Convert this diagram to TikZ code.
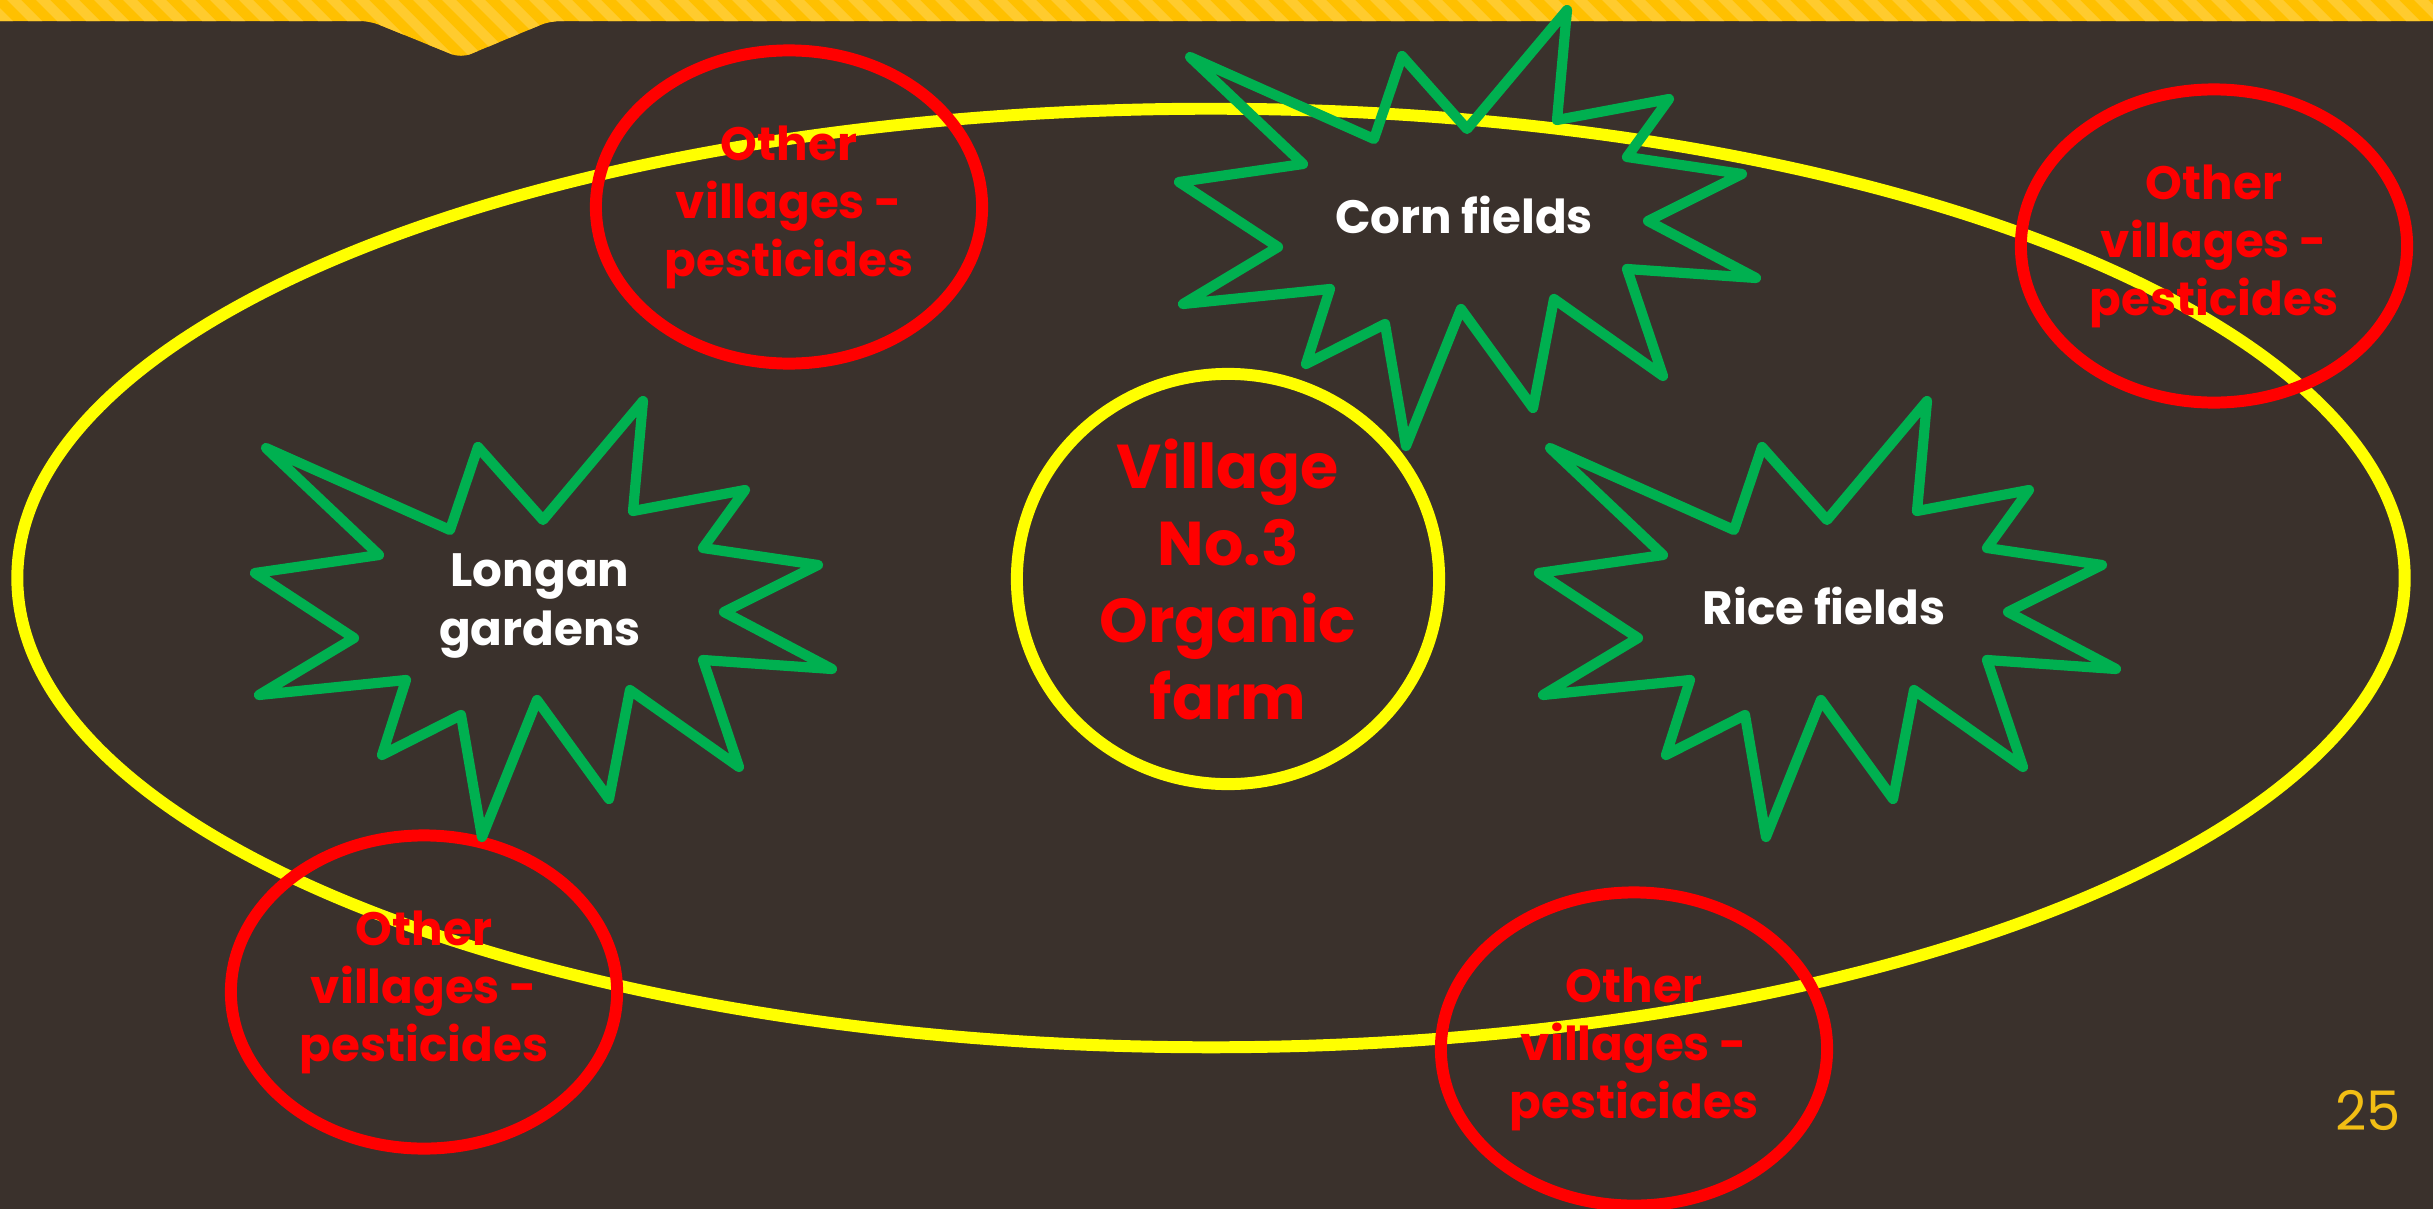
\documentclass[tikz,border=0pt]{standalone}
\usepackage{fontspec}
\setmainfont{Poppins}
\usetikzlibrary{shapes.geometric}

\definecolor{slide}{HTML}{3A312C}
\definecolor{band}{HTML}{FFC000}
\definecolor{bandlight}{HTML}{FFCB2E}
\definecolor{ringyellow}{HTML}{FFFF00}
\definecolor{burstgreen}{HTML}{00B050}
\definecolor{pagegold}{HTML}{F2BE14}

\tikzset{
  ring/.style={draw=ringyellow, line width=3.4pt, ellipse, inner sep=0pt},
  village/.style={draw=red, line width=3.4pt, ellipse, inner sep=0pt,
    minimum width=3.86cm, minimum height=3.13cm, text=red,
    font=\bfseries\fontsize{13.3}{16.5}\selectfont, align=center},
  burst/.style={draw=burstgreen, line width=2.9pt, line join=round},
  fieldtxt/.style={text=white, font=\bfseries\fontsize{13.3}{16.5}\selectfont, align=center}
}

\begin{document}
\begin{tikzpicture}[x=0.01cm, y=-0.01cm]
\fill[slide] (0,0) rectangle (2433,1209);
\useasboundingbox (0,0) rectangle (2433,1209);
% striped band with its notch
\begin{scope}
\clip[rounded corners=0.1cm] (-20,-20) -- (2453,-20) -- (2453,21) -- (550,21)
     -- (461,58) -- (370,21) -- (-20,21) -- cycle;
\fill[band] (-20,-20) rectangle (2453,60);
\foreach \s in {-100,-71,...,2460}
    \fill[bandlight] (\s,-20) -- ++(14,0) -- ++(80,80) -- ++(-14,0) -- cycle;
\end{scope}

\node[ring, minimum width=23.86cm, minimum height=9.38cm] (farmland) at (1211,578) {};
\node[ring, minimum width=4.22cm, minimum height=4.10cm, text=red,
      font=\bfseries\fontsize{17.6}{21.9}\selectfont, align=center]
      (organic) at (1228,579) {Village\\No.3\\Organic\\farm};

\foreach \nm/\px/\py in {othertl/789/207, othertr/2214/246, otherbl/424/992, otherbc/1634/1049}
    \node[village] (\nm) at (\px,\py) {Other\\villages -\\pesticides};

\foreach \nm/\px/\py/\txt in {longan/543/618/{Longan\\gardens}, corn/1467/227/{Corn fields}, rice/1827/618/{Rice fields}}
    {\begin{scope}[shift={(\px,\py)}]
     \draw[burst] (-277,-170) -- (-93,-88) -- (-65,-171) -- (0,-98) -- (100,-217)
        -- (90,-107) -- (202,-128) -- (160,-70) -- (275,-53) -- (181,-6)
        -- (289,51) -- (160,42) -- (196,149) -- (87,72) -- (66,181)
        -- (-6,82) -- (-61,219) -- (-82,97) -- (-161,137) -- (-137,62)
        -- (-284,77) -- (-189,20) -- (-288,-45) -- (-164,-63) -- cycle;
     \node[fieldtxt] (\nm) at (-3,-12) {\txt};
     \end{scope}};

\node[text=pagegold, font=\fontsize{15.5}{16}\selectfont] (pageno) at (2368,1110) {25};
\end{tikzpicture}
\end{document}
